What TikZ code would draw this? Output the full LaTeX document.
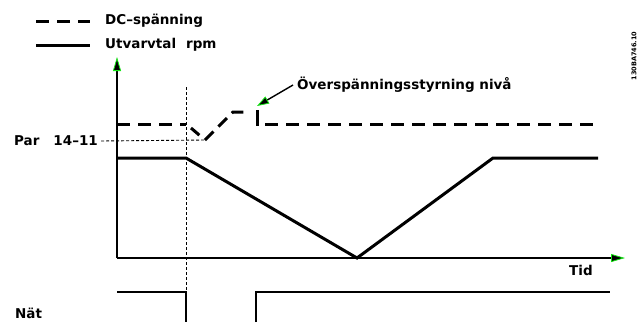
\documentclass[tikz,border=0pt]{standalone}
\usepackage{fontspec}
\setmainfont{DejaVu Sans}
\usetikzlibrary{arrows.meta}
\definecolor{tipgreen}{RGB}{20,230,20}
\tikzset{
  lbl/.style={font=\bfseries\fontsize{13.5}{15}\selectfont, inner sep=0pt, anchor=west},
  axis/.style={line width=1.4pt, -{Triangle[length=14pt,width=8pt,color=tipgreen,fill=black,line width=0.8pt]}},
  speed/.style={line width=3pt, line join=miter},
  dcv/.style={line width=3pt, dash pattern=on 13pt off 8pt},
  thind/.style={line width=0.9pt, dash pattern=on 3pt off 2pt},
  mains/.style={line width=1.6pt},
}
\begin{document}
\begin{tikzpicture}[x=1pt,y=-1pt]
\useasboundingbox (0,0) rectangle (637,322);
% legend
\coordinate (l1a) at (36,21); \coordinate (l1b) at (90,21);
\coordinate (l2a) at (36,45); \coordinate (l2b) at (90,45);
\draw[dcv] (l1a) -- (l1b);
\draw[speed] (l2a) -- (l2b);
\node[lbl] (tdc) at (105,21) {DC–spänning};
\node[lbl] (trpm) at (105,45) {Utvarvtal\hspace{10pt}rpm};
% axes
\coordinate (o) at (117,258);
\coordinate (ytop) at (117,57);
\coordinate (xend) at (625,258);
\draw[axis] (o) -- (ytop);
\draw[axis] (o) -- (xend);
\node[lbl] (ttid) at (569,270) {Tid};
% vertical thin dashed line
\coordinate (vtop) at (186,87);
\coordinate (vbot) at (186,292);
\draw[thind] (vtop) -- (vbot);
% speed curve
\coordinate (s0) at (117,158);
\coordinate (s1) at (186,158);
\coordinate (s2) at (357,258);
\coordinate (s3) at (493,158);
\coordinate (s4) at (598,158);
\draw[speed] (s0) -- (s1) -- (s2) -- (s3) -- (s4);
% DC voltage
\coordinate (d0) at (117,124);
\coordinate (d1) at (186,124);
\coordinate (d2) at (205,140);
\coordinate (d3) at (233,112);
\coordinate (d4) at (246,112);
\coordinate (d5) at (257,110);
\coordinate (d6) at (257,126);
\coordinate (d7) at (265,124);
\coordinate (d8) at (598,124);
\draw[dcv] (d0) -- (d1);
\draw[line width=3pt, dash pattern=on 11pt off 8pt] (d1) ++(5,4) -- (d2);
\draw[line width=3pt, dash pattern=on 12pt off 7pt] (d2) -- (d3) -- (d4);
\draw[line width=3pt] (d5) -- (d6);
\draw[dcv] (d7) -- (d8);
% Par 14-11
\node[lbl] (tpar) at (14,141) {Par\hspace{14pt}14–11};
\draw[thind] (tpar.east) ++(3,0) coordinate (p0) -- (d2);
% annotation
\node[lbl] (tov) at (297,85) {Överspänningsstyrning\ nivå};
\coordinate (ovtip) at (257,106);
\draw[line width=1.4pt, -{Triangle[length=12pt,width=8pt,color=tipgreen,fill=black,line width=0.8pt]}] (tov.west) ++(-4,0) -- (ovtip);
% mains
\coordinate (m0) at (117,292);
\coordinate (m1) at (186,292);
\coordinate (m2) at (186,322);
\coordinate (m3) at (256,322);
\coordinate (m4) at (256,292);
\coordinate (m5) at (610,292);
\draw[mains] (m0) -- (m1) -- (m2);
\draw[mains] (m3) -- (m4) -- (m5);
\node[lbl] (tnat) at (15,313) {Nät};
% figure id
\node[font=\bfseries\fontsize{6.5}{7}\selectfont, rotate=90, inner sep=0pt] (fid) at (634,56) {130BA746.10};
\end{tikzpicture}
\end{document}
